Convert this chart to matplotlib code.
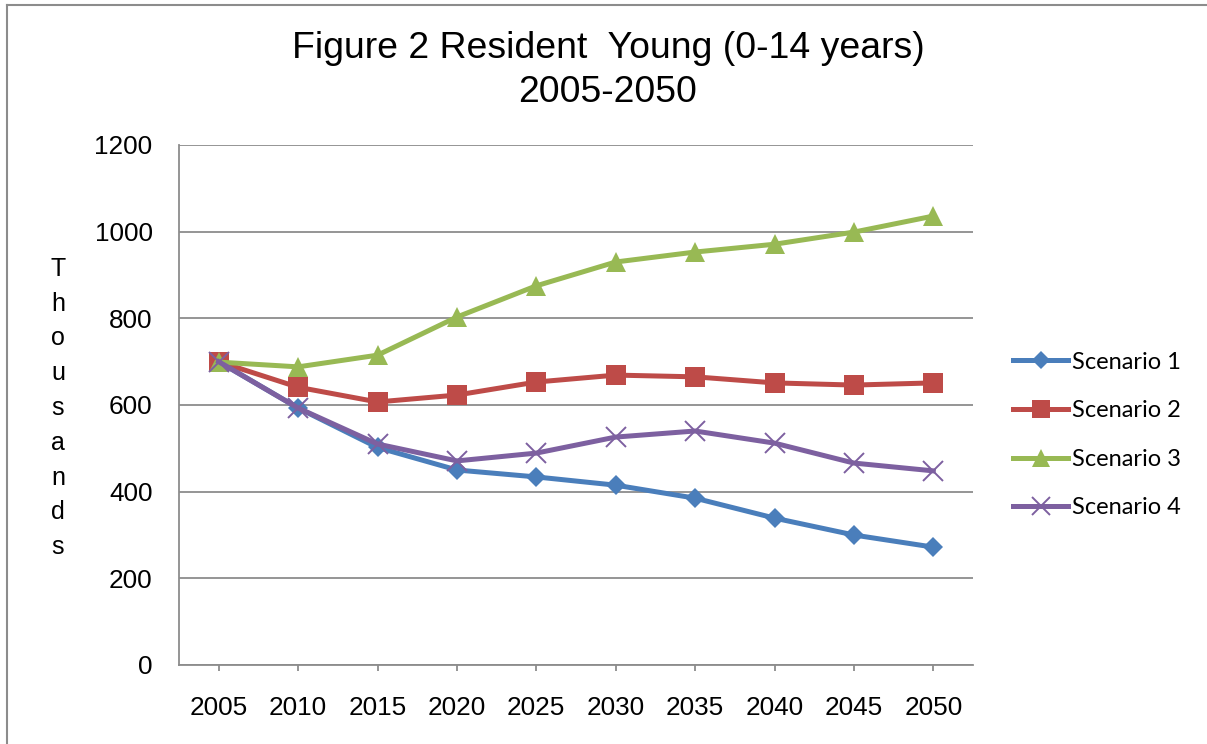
import matplotlib
matplotlib.use("Agg")
import matplotlib.pyplot as plt
from matplotlib.lines import Line2D

# Resident young population (0-14 years), thousands
years = ["2005", "2010", "2015", "2020", "2025", "2030", "2035", "2040", "2045", "2050"]
scenario_1 = [700, 593, 502, 450, 434, 415, 385, 339, 300, 272]
scenario_2 = [700, 641, 607, 623, 653, 669, 665, 651, 646, 651]
scenario_3 = [699, 688, 715, 803, 875, 930, 953, 971, 999, 1036]
scenario_4 = [700, 593, 510, 471, 489, 526, 540, 512, 466, 448]
labels = ["Scenario 1", "Scenario 2", "Scenario 3", "Scenario 4"]
y_ticks = [0, 200, 400, 600, 800, 1000, 1200]

W, H = 1207, 744
fig = plt.figure(figsize=(W / 100, H / 100), dpi=100)
fig.patch.set_facecolor("white")

grey = "#8c8c8c"
ax = fig.add_axes([179 / W, 1 - 665 / H, (973 - 179) / W, (665 - 145) / H])

x = list(range(len(years)))
styles = [
    dict(color="#4a7ebb", marker="D", markersize=10, markeredgewidth=0),
    dict(color="#be4b48", marker="s", markersize=14, markeredgewidth=0),
    dict(color="#98b954", marker="^", markersize=14, markeredgewidth=0),
    dict(color="#7d60a0", marker="x", markersize=14, markeredgewidth=1.4),
]
series = [scenario_1, scenario_2, scenario_3, scenario_4]
order = [1, 2, 0, 3]
for i in order:
    ax.plot(x, series[i], linewidth=3.6, label=labels[i], zorder=3 + i,
            solid_joinstyle="round", **styles[i])

ax.set_xlim(-0.5, len(years) - 0.5)
ax.set_ylim(0, 1200)
ax.set_xticks(x)
ax.set_xticklabels(years)
ax.set_yticks(y_ticks)
ax.set_yticklabels([str(v) for v in y_ticks])

font = "Liberation Sans"
tick_size = 18.8
for lbl in ax.get_xticklabels() + ax.get_yticklabels():
    lbl.set_fontfamily(font)
    lbl.set_fontsize(tick_size)
    lbl.set_color("black")

ax.tick_params(axis="x", length=4, width=1.3, color=grey, direction="out", pad=18)
ax.tick_params(axis="y", length=0, pad=19)

ax.yaxis.grid(True, color=grey, linewidth=1.3)
ax.set_axisbelow(True)
for side in ["top", "right"]:
    ax.spines[side].set_visible(False)
for side in ["left", "bottom"]:
    ax.spines[side].set_color(grey)
    ax.spines[side].set_linewidth(1.3)

# Vertical axis caption, one letter per row
ax_word = "Thousands"
fig.text(58 / W, 1 - 408 / H, "\n".join(ax_word), ha="center", va="center",
         fontfamily=font, fontsize=18, linespacing=1.57)

# Title
fig.text(608 / W, 1 - 49 / H, "Figure 2 Resident  Young (0-14 years)", ha="center",
         va="center", fontfamily=font, fontsize=26.9)
fig.text(608 / W, 1 - 93 / H, "2005-2050", ha="center", va="center",
         fontfamily=font, fontsize=26.9)

# Legend
handles, hlabels = ax.get_legend_handles_labels()
hmap = dict(zip(hlabels, handles))
leg = fig.legend([hmap[l] for l in labels], labels, loc="center left",
                 bbox_to_anchor=(1013 / W, 1 - 435 / H), frameon=False,
                 prop=dict(family="Lato", size=17), handlelength=2.33,
                 handletextpad=0.17, labelspacing=1.17, borderpad=0, borderaxespad=0)
for h in leg.legend_handles:
    h.set_markersize(h.get_markersize() * 0.95)

# Outer chart frame (left and top edges)
fig.add_artist(Line2D([7 / W, 7 / W], [0, 1 - 5 / H], color=grey, linewidth=1.5,
                      transform=fig.transFigure))
fig.add_artist(Line2D([7 / W, 1], [1 - 5 / H, 1 - 5 / H], color=grey, linewidth=1.5,
                      transform=fig.transFigure))

fig.savefig("out.png", dpi=100, facecolor="white")
